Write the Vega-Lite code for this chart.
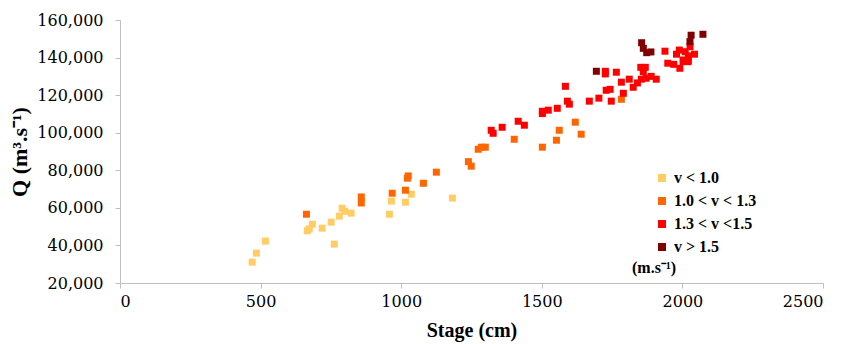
{
  "$schema": "https://vega.github.io/schema/vega-lite/v6.json",
  "width": 703,
  "height": 263,
  "autosize": "none",
  "padding": {"left": 120, "top": 20, "right": 21, "bottom": 61},
  "background": "white",
  "config": {"view": {"stroke": null}, "font": "Liberation Serif"},
  "data": {"values": [
    {"stage": 470, "q": 31100, "v": "v < 1.0"},
    {"stage": 485, "q": 35900, "v": "v < 1.0"},
    {"stage": 517, "q": 42300, "v": "v < 1.0"},
    {"stage": 666, "q": 47800, "v": "v < 1.0"},
    {"stage": 673, "q": 48800, "v": "v < 1.0"},
    {"stage": 684, "q": 51300, "v": "v < 1.0"},
    {"stage": 719, "q": 49200, "v": "v < 1.0"},
    {"stage": 751, "q": 52400, "v": "v < 1.0"},
    {"stage": 762, "q": 40700, "v": "v < 1.0"},
    {"stage": 780, "q": 55600, "v": "v < 1.0"},
    {"stage": 790, "q": 59800, "v": "v < 1.0"},
    {"stage": 799, "q": 58200, "v": "v < 1.0"},
    {"stage": 822, "q": 57200, "v": "v < 1.0"},
    {"stage": 958, "q": 56600, "v": "v < 1.0"},
    {"stage": 965, "q": 63600, "v": "v < 1.0"},
    {"stage": 1015, "q": 63000, "v": "v < 1.0"},
    {"stage": 1036, "q": 67300, "v": "v < 1.0"},
    {"stage": 1182, "q": 65200, "v": "v < 1.0"},
    {"stage": 663, "q": 56600, "v": " 1.0 < v < 1.3"},
    {"stage": 858, "q": 65800, "v": " 1.0 < v < 1.3"},
    {"stage": 858, "q": 62600, "v": " 1.0 < v < 1.3"},
    {"stage": 968, "q": 67800, "v": " 1.0 < v < 1.3"},
    {"stage": 1015, "q": 69400, "v": " 1.0 < v < 1.3"},
    {"stage": 1022, "q": 75800, "v": " 1.0 < v < 1.3"},
    {"stage": 1025, "q": 77000, "v": " 1.0 < v < 1.3"},
    {"stage": 1079, "q": 73100, "v": " 1.0 < v < 1.3"},
    {"stage": 1125, "q": 79000, "v": " 1.0 < v < 1.3"},
    {"stage": 1239, "q": 84600, "v": " 1.0 < v < 1.3"},
    {"stage": 1249, "q": 82200, "v": " 1.0 < v < 1.3"},
    {"stage": 1274, "q": 91200, "v": " 1.0 < v < 1.3"},
    {"stage": 1285, "q": 92300, "v": " 1.0 < v < 1.3"},
    {"stage": 1299, "q": 92300, "v": " 1.0 < v < 1.3"},
    {"stage": 1402, "q": 96500, "v": " 1.0 < v < 1.3"},
    {"stage": 1502, "q": 92300, "v": " 1.0 < v < 1.3"},
    {"stage": 1552, "q": 96000, "v": " 1.0 < v < 1.3"},
    {"stage": 1562, "q": 101300, "v": " 1.0 < v < 1.3"},
    {"stage": 1619, "q": 105600, "v": " 1.0 < v < 1.3"},
    {"stage": 1640, "q": 99200, "v": " 1.0 < v < 1.3"},
    {"stage": 1783, "q": 117800, "v": " 1.0 < v < 1.3"},
    {"stage": 1320, "q": 101300, "v": " 1.3 < v <1.5"},
    {"stage": 1327, "q": 99700, "v": " 1.3 < v <1.5"},
    {"stage": 1359, "q": 102900, "v": " 1.3 < v <1.5"},
    {"stage": 1416, "q": 106100, "v": " 1.3 < v <1.5"},
    {"stage": 1438, "q": 104000, "v": " 1.3 < v <1.5"},
    {"stage": 1502, "q": 111400, "v": " 1.3 < v <1.5"},
    {"stage": 1502, "q": 110200, "v": " 1.3 < v <1.5"},
    {"stage": 1523, "q": 112000, "v": " 1.3 < v <1.5"},
    {"stage": 1555, "q": 113000, "v": " 1.3 < v <1.5"},
    {"stage": 1584, "q": 124700, "v": " 1.3 < v <1.5"},
    {"stage": 1591, "q": 116800, "v": " 1.3 < v <1.5"},
    {"stage": 1598, "q": 115200, "v": " 1.3 < v <1.5"},
    {"stage": 1669, "q": 116800, "v": " 1.3 < v <1.5"},
    {"stage": 1703, "q": 118400, "v": " 1.3 < v <1.5"},
    {"stage": 1726, "q": 132700, "v": " 1.3 < v <1.5"},
    {"stage": 1726, "q": 131300, "v": " 1.3 < v <1.5"},
    {"stage": 1765, "q": 132200, "v": " 1.3 < v <1.5"},
    {"stage": 1783, "q": 126900, "v": " 1.3 < v <1.5"},
    {"stage": 1811, "q": 128500, "v": " 1.3 < v <1.5"},
    {"stage": 1840, "q": 126500, "v": " 1.3 < v <1.5"},
    {"stage": 1825, "q": 124200, "v": " 1.3 < v <1.5"},
    {"stage": 1729, "q": 122600, "v": " 1.3 < v <1.5"},
    {"stage": 1743, "q": 123100, "v": " 1.3 < v <1.5"},
    {"stage": 1747, "q": 116800, "v": " 1.3 < v <1.5"},
    {"stage": 1790, "q": 121000, "v": " 1.3 < v <1.5"},
    {"stage": 1852, "q": 134800, "v": " 1.3 < v <1.5"},
    {"stage": 1868, "q": 134800, "v": " 1.3 < v <1.5"},
    {"stage": 1861, "q": 132500, "v": " 1.3 < v <1.5"},
    {"stage": 1854, "q": 128500, "v": " 1.3 < v <1.5"},
    {"stage": 1871, "q": 129000, "v": " 1.3 < v <1.5"},
    {"stage": 1889, "q": 130000, "v": " 1.3 < v <1.5"},
    {"stage": 1907, "q": 128500, "v": " 1.3 < v <1.5"},
    {"stage": 1948, "q": 137000, "v": " 1.3 < v <1.5"},
    {"stage": 1969, "q": 136400, "v": " 1.3 < v <1.5"},
    {"stage": 1991, "q": 134300, "v": " 1.3 < v <1.5"},
    {"stage": 2003, "q": 137900, "v": " 1.3 < v <1.5"},
    {"stage": 2020, "q": 137800, "v": " 1.3 < v <1.5"},
    {"stage": 1938, "q": 143400, "v": " 1.3 < v <1.5"},
    {"stage": 1979, "q": 141800, "v": " 1.3 < v <1.5"},
    {"stage": 1989, "q": 144000, "v": " 1.3 < v <1.5"},
    {"stage": 2010, "q": 143100, "v": " 1.3 < v <1.5"},
    {"stage": 2043, "q": 141800, "v": " 1.3 < v <1.5"},
    {"stage": 2027, "q": 145800, "v": " 1.3 < v <1.5"},
    {"stage": 2021, "q": 140900, "v": " 1.3 < v <1.5"},
    {"stage": 2003, "q": 138700, "v": " 1.3 < v <1.5"},
    {"stage": 2021, "q": 138300, "v": " 1.3 < v <1.5"},
    {"stage": 1694, "q": 132700, "v": " v > 1.5"},
    {"stage": 1855, "q": 147900, "v": " v > 1.5"},
    {"stage": 1861, "q": 144900, "v": " v > 1.5"},
    {"stage": 1873, "q": 142600, "v": " v > 1.5"},
    {"stage": 1888, "q": 143000, "v": " v > 1.5"},
    {"stage": 2031, "q": 151900, "v": " v > 1.5"},
    {"stage": 2027, "q": 148500, "v": " v > 1.5"},
    {"stage": 2073, "q": 152400, "v": " v > 1.5"}
  ]},
  "mark": {"type": "square", "size": 49, "opacity": 1, "filled": true},
  "encoding": {
    "x": {
      "field": "stage", "type": "quantitative",
      "scale": {"domain": [0, 2500], "nice": false, "zero": false},
      "axis": {
        "title": "Stage (cm)", "values": [0, 500, 1000, 1500, 2000, 2500],
        "format": "d", "grid": false,
        "domainColor": "#BFBFBF", "tickColor": "#BFBFBF", "tickSize": 5,
        "labelFont": "DejaVu Serif", "labelFontSize": 16, "labelColor": "#000000", "labelPadding": 5,
        "titleFont": "Liberation Serif", "titleFontSize": 20, "titleFontWeight": "bold", "titleColor": "#000000", "titlePadding": 11
      }
    },
    "y": {
      "field": "q", "type": "quantitative",
      "scale": {"domain": [20000, 160000], "nice": false, "zero": false},
      "axis": {
        "title": "Q (m³.s⁻¹)", "values": [20000, 40000, 60000, 80000, 100000, 120000, 140000, 160000],
        "format": ",d", "grid": false,
        "domainColor": "#BFBFBF", "tickColor": "#BFBFBF", "tickSize": 5,
        "labelFont": "DejaVu Serif", "labelFontSize": 16, "labelColor": "#000000", "labelPadding": 12,
        "titleFont": "Liberation Serif", "titleFontSize": 22, "titleFontWeight": "bold", "titleColor": "#000000", "titlePadding": 5
      }
    },
    "color": {
      "field": "v", "type": "nominal",
      "scale": {
        "domain": ["v < 1.0", " 1.0 < v < 1.3", " 1.3 < v <1.5", " v > 1.5"],
        "range": ["#FFCC66", "#FF6600", "#FF0000", "#800000"]
      },
      "legend": {
        "title": "(m.s⁻¹)", "orient": "none", "legendX": 512, "legendY": 150,
        "titleOrient": "bottom", "titleAnchor": "start", "titleAlign": "center",
        "titleFont": "Liberation Serif", "titleFontSize": 16, "titleFontWeight": "bold", "titleColor": "#000000", "titlePadding": 5,
        "labelFont": "Liberation Serif", "labelFontSize": 16, "labelFontWeight": "bold", "labelColor": "#000000", "labelOffset": 4,
        "symbolType": "square", "symbolSize": 64, "symbolStrokeWidth": 0, "symbolOpacity": 1,
        "rowPadding": 7
      }
    }
  }
}
